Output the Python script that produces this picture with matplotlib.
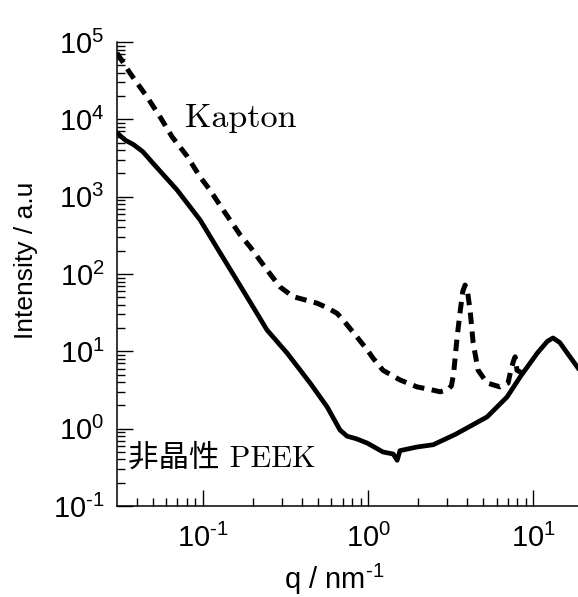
import numpy as np
import matplotlib
matplotlib.use("Agg")
import matplotlib.pyplot as plt
from matplotlib.ticker import LogLocator, NullFormatter

plt.rcParams['font.family'] = ['Liberation Sans', 'DejaVu Sans']
plt.rcParams['mathtext.fontset'] = 'custom'
plt.rcParams['mathtext.rm'] = 'Liberation Sans'
plt.rcParams['mathtext.it'] = 'Liberation Sans:italic'
plt.rcParams['mathtext.bf'] = 'Liberation Sans:bold'
plt.rcParams['mathtext.default'] = 'regular'

# amorphous PEEK (solid)
q_peek = np.array([0.0301, 0.0337, 0.038, 0.0433, 0.0498, 0.0695, 0.096, 0.127,
                   0.152, 0.201, 0.244, 0.323, 0.445, 0.565, 0.676, 0.746,
                   0.85, 0.99, 1.23, 1.42, 1.50, 1.56, 1.98, 2.48, 3.4, 5.26,
                   6.95, 8.34, 10.6, 12.2, 13.2, 14.5, 16.1, 18.7])
I_peek = np.array([6700, 5400, 4700, 3800, 2700, 1225, 500, 187,
                   100, 37.5, 18.9, 9.5, 3.9, 1.91, 0.96, 0.80,
                   0.74, 0.65, 0.50, 0.47, 0.39, 0.52, 0.58, 0.62, 0.85, 1.42,
                   2.57, 4.67, 9.5, 13.5, 14.9, 13.0, 9.5, 6.1])

# Kapton (dashed)
q_kap = np.array([0.0301, 0.036, 0.0458, 0.055, 0.0649, 0.080, 0.096, 0.110,
                  0.132, 0.168, 0.193, 0.244, 0.293, 0.351, 0.42, 0.49, 0.56,
                  0.649, 0.705, 0.857, 0.99, 1.07, 1.23, 1.56, 1.98, 2.4,
                  2.73, 3.05, 3.2, 3.3, 3.46, 3.62, 3.75, 3.87, 4.0, 4.15,
                  4.33, 4.64, 5.26, 6.3, 7.05, 7.3, 7.6, 7.78, 7.98, 8.57])
I_kap = np.array([72000, 40000, 19500, 10700, 5950, 3350, 1800, 1224,
                  680, 320, 224, 113, 68, 51, 46, 42, 37,
                  31, 25.5, 15.3, 10.4, 8.2, 5.7, 4.27, 3.47, 3.2,
                  3.0, 3.2, 3.6, 5.25, 15, 34, 60, 72, 60, 34,
                  12.9, 5.7, 3.9, 3.47, 3.9, 5.5, 7.5, 8.5, 5.7, 5.25])

x_ticks = [0.1, 1, 10]
x_labels = [r'$10^{\text{-1}}$', r'$10^{0}$', r'$10^{1}$']
y_ticks = [1e-1, 1e0, 1e1, 1e2, 1e3, 1e4, 1e5]
y_labels = [r'$10^{\text{-1}}$', r'$10^{0}$', r'$10^{1}$', r'$10^{2}$',
            r'$10^{3}$', r'$10^{4}$', r'$10^{5}$']

fig = plt.figure(figsize=(5.78, 5.97), dpi=100)
ax = fig.add_axes([0.2024, 0.1524, 0.7976, 0.7772])

ax.plot(q_peek, I_peek, color='black', lw=3.4, solid_joinstyle='round')
kap, = ax.plot(q_kap, I_kap, color='black', lw=3.6)
kap.set_dashes([2.3, 1.5])

ax.set_xscale('log')
ax.set_yscale('log')
ax.set_xlim(0.0301, 18.7)
ax.set_ylim(0.1, 1e5)

ax.set_xticks(x_ticks, x_labels)
ax.set_yticks(y_ticks, y_labels)
ax.xaxis.set_minor_locator(LogLocator(base=10, subs=np.arange(2, 10)))
ax.yaxis.set_minor_locator(LogLocator(base=10, subs=np.arange(2, 10)))
ax.xaxis.set_minor_formatter(NullFormatter())
ax.yaxis.set_minor_formatter(NullFormatter())

for s in ['top', 'right']:
    ax.spines[s].set_visible(False)
for s in ['left', 'bottom']:
    ax.spines[s].set_linewidth(1.1)

ax.tick_params(which='both', direction='in', top=False, right=False, width=1.0)
ax.tick_params(which='major', length=11.5, labelsize=21)
ax.tick_params(which='minor', length=5.8)
ax.tick_params(axis='x', which='major', pad=13)
ax.tick_params(axis='y', which='major', pad=9)

ax.set_xlabel(r'q / nm$^{\text{-1}}$', fontsize=21)
ax.set_ylabel('Intensity / a.u', fontsize=19)
ax.xaxis.label.set_va('baseline')
ax.xaxis.set_label_coords(0.471, -0.179)
ax.yaxis.set_label_coords(-0.172, 0.53)

ax.text(0.1475, 0.817, 'Kapton', transform=ax.transAxes, fontsize=24.5,
        family=['cmr10', 'DejaVu Serif'], va='baseline', ha='left')
ax.text(0.024, 0.103, '非晶性 PEEK', transform=ax.transAxes, fontsize=22,
        family=['cmr10', 'Noto Sans CJK JP'], va='center', ha='left')

fig.savefig('out.png', dpi=100)
